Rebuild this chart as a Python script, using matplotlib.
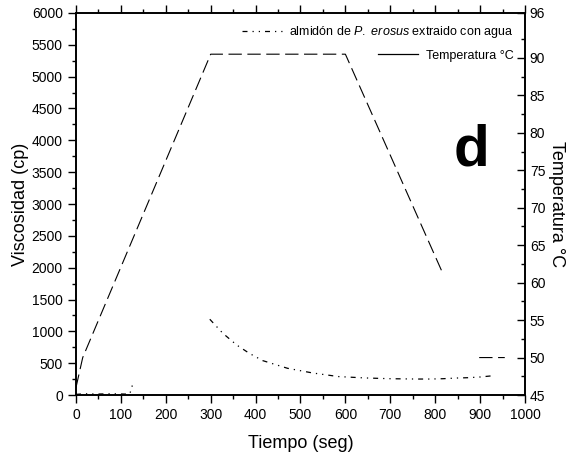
import numpy as np
import matplotlib.pyplot as plt
from matplotlib.lines import Line2D

plt.rcParams['font.family'] = ['Liberation Sans', 'DejaVu Sans']
plt.rcParams['mathtext.fontset'] = 'custom'
plt.rcParams['mathtext.it'] = 'Liberation Sans:italic'
plt.rcParams['mathtext.rm'] = 'Liberation Sans'

# viscosidad (cp) vs tiempo (seg)
visc_t = [0, 20, 47, 80, 109, 120, 128, np.nan, 298, 327, 358, 386, 416, 471,
          528, 559, 584, 644, 700, 759, 789, 817, 849, 873, 900, 929]
visc_cp = [10, 20, 15, 20, 15, 20, 210, np.nan, 1190, 970, 785, 655, 540, 420,
           345, 315, 290, 268, 256, 251, 251, 256, 267, 272, 283, 303]

# temperatura (°C) vs tiempo (seg)
temp_t = [0, 15, 300, 600, 815, np.nan, 898, 955]
temp_c = [46, 50, 90.5, 90.5, 61.5, np.nan, 50, 50]

visc_style = (0, (4, 4, 1, 4, 1, 4))
temp_style = (0, (12, 5))

fig = plt.figure(figsize=(5.73, 4.59), dpi=100)
ax = fig.add_axes([0.1326, 0.1394, 0.7836, 0.8323])
ax2 = ax.twinx()

ax.plot(visc_t, visc_cp, color='black', lw=0.9, linestyle=visc_style)
ax2.plot(temp_t, temp_c, color='black', lw=0.8, linestyle=temp_style)

ax.set_xlim(0, 1000)
ax.set_ylim(0, 6000)
ax2.set_ylim(45, 96)

ax.set_xticks(np.arange(0, 1001, 100))
ax.set_xticks(np.arange(0, 1001, 50), minor=True)
ax.set_yticks(np.arange(0, 6001, 500))
ax.set_yticks(np.arange(0, 6001, 250), minor=True)
ax2.set_yticks([45, 50, 55, 60, 65, 70, 75, 80, 85, 90, 96])
ax2.set_yticks(np.arange(47.5, 95, 2.5), minor=True)

ax.tick_params(axis='x', which='both', direction='out', top=True, labelsize=10, pad=3)
ax.tick_params(axis='x', which='major', length=6, width=1)
ax.tick_params(axis='x', which='minor', length=3, width=1)
ax.tick_params(axis='y', which='major', direction='out', length=6, width=1, labelsize=10)
ax.tick_params(axis='y', which='minor', direction='out', length=3, width=1)
ax2.tick_params(axis='y', which='major', direction='in', length=6, width=1, labelsize=10)
ax2.tick_params(axis='y', which='minor', direction='in', length=3, width=1)
for a in (ax, ax2):
    for s in a.spines.values():
        s.set_linewidth(1.2)

ax.set_xlabel('Tiempo (seg)', fontsize=13, labelpad=10)
ax.set_ylabel('Viscosidad (cp)', fontsize=13, labelpad=2)
ax2.set_ylabel('Temperatura °C', fontsize=13, rotation=-90, labelpad=14)

ax.text(0.88, 0.64, 'd', transform=ax.transAxes, fontsize=42, fontweight='bold',
        ha='center', va='center')

handles = [Line2D([], [], color='black', lw=0.9, linestyle=visc_style),
           Line2D([], [], color='black', lw=0.9)]
labels = ['almidón de $P.$ $erosus$ extraido con agua', 'Temperatura °C']
leg = ax.legend(handles, labels, loc='upper right', frameon=False, fontsize=9,
                handlelength=3.2, handletextpad=0.6, borderaxespad=0.5,
                labelspacing=0.75)
# filas alineadas a la derecha como en el original
leg._legend_handle_box.get_children()[0].align = 'right'

fig.savefig('out.png', dpi=100)
